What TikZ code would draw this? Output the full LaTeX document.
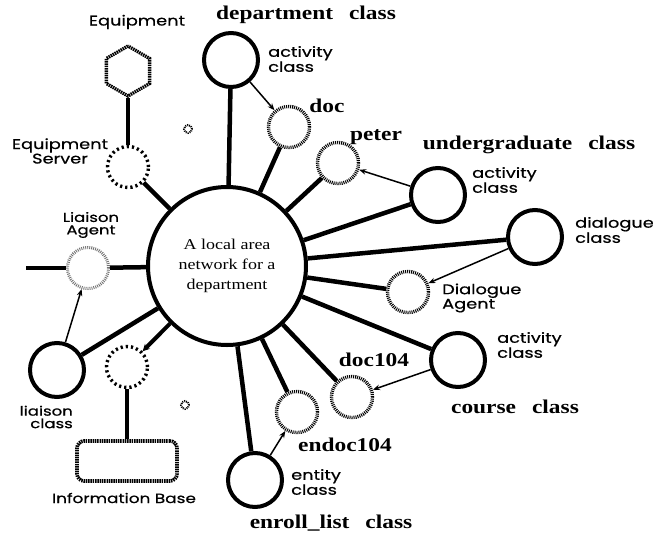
\documentclass[tikz,border=0pt]{standalone}
\usepackage{fontspec}
\setmainfont{Liberation Serif}
\newfontfamily\popf[FakeStretch=1.27,FakeBold=0.6]{Poppins}
\newfontfamily\bserif[FakeStretch=1.2]{Liberation Serif}
\newfontfamily\cserif[FakeStretch=1.2]{Liberation Serif}
\usetikzlibrary{shapes.geometric,arrows.meta}
\begin{document}
\begin{tikzpicture}[x=1pt,y=-1pt,
  bigc/.style={circle,draw,line width=4pt,minimum size=54pt,inner sep=0pt},
  hatc/.style={circle,draw,line width=3.4pt,dash pattern=on 1pt off 1pt,minimum size=41pt,inner sep=0pt},
  dotc/.style={circle,draw,line width=3.4pt,dash pattern=on 2.2pt off 3pt,minimum size=41pt,inner sep=0pt},
  lightc/.style={circle,draw=black!55,line width=3pt,dash pattern=on 0.9pt off 1.1pt,minimum size=41pt,inner sep=0pt},
  flower/.style={circle,draw,line width=2pt,dash pattern=on 1pt off 1pt,minimum size=8pt,inner sep=0pt},
  conn/.style={line width=4.5pt},
  arr/.style={line width=1.5pt,-{Stealth[length=7pt,width=5.5pt]}},
  blab/.style={font=\bserif\bfseries\fontsize{19.5}{19.5}\selectfont,inner sep=0pt},
  slab/.style={font=\popf\fontsize{14}{12.5}\selectfont,align=left,anchor=west,inner sep=0pt},
  clab/.style={font=\popf\fontsize{14}{12.5}\selectfont,align=center,inner sep=0pt},
  smlab/.style={font=\popf\fontsize{13.3}{12.5}\selectfont,inner sep=0pt}]
\useasboundingbox (0,0) rectangle (653,536);

% central network
\node[circle,draw,line width=4pt,minimum size=158pt,inner sep=0pt,align=center,
  font=\cserif\fontsize{15}{20}\selectfont] (lan) at (227,266) {A local area\\network for a\\department};

% nodes
\node[bigc] (dept) at (231,60) {};
\node[hatc] (doc) at (289,127) {};
\node[hatc] (peter) at (338,163) {};
\node[bigc] (ug) at (438,195) {};
\node[bigc] (dlg) at (535,237) {};
\node[hatc] (dagent) at (408,292) {};
\node[bigc] (course) at (458,360) {};
\node[hatc] (doc104) at (352,397) {};
\node[hatc] (endoc) at (297,412) {};
\node[bigc] (enroll) at (255,480) {};
\node[lightc] (lagent) at (88,268) {};
\coordinate (lend) at (26,268);
\node[bigc] (lclass) at (57,370) {};
\node[dotc] (iserv) at (127,367) {};
\node[draw,rounded corners=7pt,line width=3.6pt,dash pattern=on 1.5pt off 0.8pt,
  minimum width=100pt,minimum height=40pt,inner sep=0pt] (ibase) at (127,461) {};
\node[dotc] (eserv) at (128,167) {};
\node[regular polygon,regular polygon sides=6,shape border rotate=30,draw,
  line width=3.4pt,dash pattern=on 1.5pt off 0.8pt,minimum size=50pt,inner sep=0pt] (equip) at (128,71) {};
\node[flower] (f1) at (188,129) {};
\node[flower] (f2) at (185,405) {};

% connectors
\draw[conn] (lan) -- (dept);
\draw[conn] (lan) -- (doc);
\draw[conn] (lan) -- (peter);
\draw[conn] (lan) -- (ug);
\draw[conn] (lan) -- (dlg);
\draw[conn] (lan) -- (dagent);
\draw[conn] (lan) -- (course);
\draw[conn] (lan) -- (doc104);
\draw[conn] (lan) -- (endoc);
\draw[conn] (lan) -- (enroll);
\draw[conn] (lan) -- (lagent);
\draw[conn] (lagent) -- (lend);
\draw[conn] (lan) -- (lclass);
\draw[conn] (lan) -- (eserv);
\draw[conn] (eserv) -- (equip);
\draw[conn] (iserv) -- (ibase);
\draw[line width=4pt,-{Stealth[length=7pt,width=7pt]}] (lan) -- (iserv);

% arrows
\draw[arr] (dept) -- (doc);
\draw[arr] (ug) -- (peter);
\draw[arr] (dlg) -- (dagent);
\draw[arr] (course) -- (doc104);
\draw[arr] (enroll) -- (endoc);
\draw[arr] (lclass) -- (lagent);

% labels
\node[blab] (tdept) at (306,15) {department\hspace{16pt}class};
\node[slab] (tdepta) at (268,59) {activity\\class};
\node[blab] (tdoc) at (327,106) {doc};
\node[blab] (tpeter) at (376,137) {peter};
\node[blab] (tug) at (529,145) {undergraduate\hspace{16pt}class};
\node[slab] (tuga) at (472,180) {activity\\class};
\node[slab] (tdlg) at (575,230) {dialogue\\class};
\node[slab] (tdag) at (442,298) {Dialogue\\Agent};
\node[slab] (tcoa) at (497,345) {activity\\class};
\node[blab] (tcourse) at (515,407) {course\hspace{16pt}class};
\node[blab] (tdoc104) at (374,360) {doc104};
\node[blab] (tendoc) at (345,445) {endoc104};
\node[slab] (tent) at (291,482) {entity\\class};
\node[blab] (tenroll) at (331,523) {enroll\_list\hspace{16pt}class};
\node[font=\popf\fontsize{13}{12.5}\selectfont,align=center,inner sep=0pt] (tla) at (91,225) {Liaison\\Agent};
\node[font=\popf\fontsize{13}{12.5}\selectfont,inner sep=0pt,align=right,anchor=east] (tlc) at (73,417) {liaison\\class};
\node[smlab] (tib) at (124,498) {Information Base};
\node[clab] (teq) at (137,22) {Equipment};
\node[clab] (tes) at (60,151) {Equipment\\Server};
\end{tikzpicture}
\end{document}
